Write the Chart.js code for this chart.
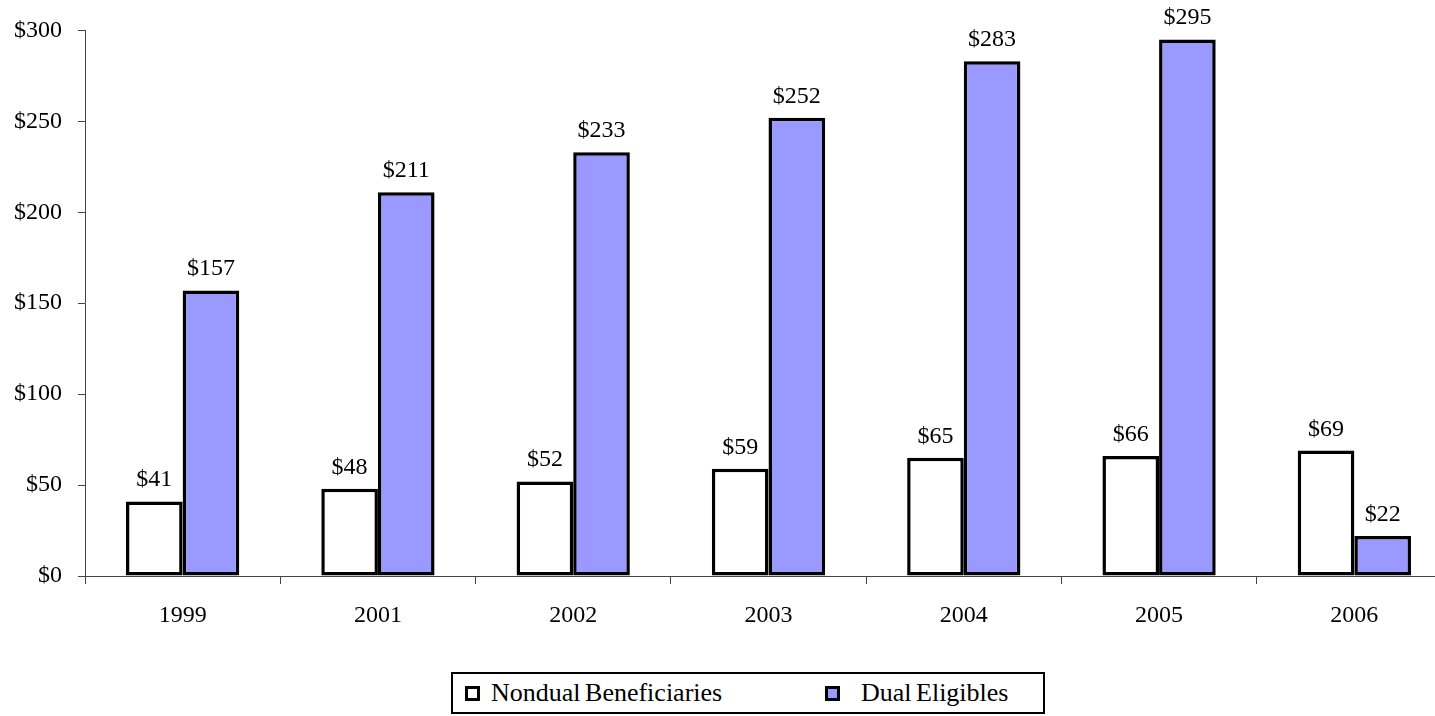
<!DOCTYPE html>
<html>
<head>
<meta charset="utf-8">
<script src="https://cdn.jsdelivr.net/npm/chart.js@4/dist/chart.umd.min.js"></script>
<style>
  html, body { margin: 0; padding: 0; background: #fff; overflow: hidden; }
  #wrap { position: relative; width: 1435px; height: 716px; overflow: hidden; }
  #box { position: absolute; left: 0; top: 0; width: 1452px; height: 716px; }
  #legend {
    position: absolute; left: 451px; top: 672px; width: 594px; height: 42px;
    box-sizing: border-box; border: 2px solid #000; background: #fff;
    font-family: "Liberation Serif", "Times New Roman", serif; font-size: 26px; color: #000;
  }
  .item { position: absolute; top: 3px; line-height: 32px; white-space: nowrap; word-spacing: -2px; }
  .sw { position: absolute; top: 12px; width: 9px; height: 9px; border: 3px solid #000; }
</style>
</head>
<body>
<div id="wrap">
  <div id="box"><canvas id="c"></canvas></div>
  <div id="legend">
    <span class="sw" style="left:12px;background:#fff"></span>
    <span class="item" style="left:38px">Nondual Beneficiaries</span>
    <span class="sw" style="left:372px;background:#9999ff"></span>
    <span class="item" style="left:408px">Dual Eligibles</span>
  </div>
</div>
<script>
(function () {
    // --- veriler ---
    const years = ['1999', '2001', '2002', '2003', '2004', '2005', '2006'];
    const nondual = [41, 48, 52, 59, 65, 66, 69];
    const dual = [157, 211, 233, 252, 283, 295, 22];
    const yTicks = [0, 50, 100, 150, 200, 250, 300];

    const fontFam = '"Liberation Serif", "Times New Roman", serif';

    // bar üstü etiketleri
    const valueLabels = {
        id: 'valueLabels',
        afterDatasetsDraw(chart) {
            const ctx = chart.ctx;
            ctx.save();
            ctx.font = '24px ' + fontFam;
            ctx.fillStyle = '#000';
            ctx.textAlign = 'center';
            ctx.textBaseline = 'alphabetic';
            chart.data.datasets.forEach((ds, i) => {
                chart.getDatasetMeta(i).data.forEach((bar, j) => {
                    ctx.fillText('$' + ds.data[j], bar.x, bar.y - 15);
                });
            });
            ctx.restore();
        }
    };

    new Chart(document.getElementById('c'), {
        type: 'bar',
        data: {
            labels: years,
            datasets: [
                {
                    label: 'Nondual Beneficiaries',
                    data: nondual,
                    backgroundColor: '#ffffff',
                    borderColor: '#000',
                    borderWidth: 3.5,
                    borderSkipped: false
                },
                {
                    label: 'Dual Eligibles',
                    data: dual,
                    backgroundColor: '#9999ff',
                    borderColor: '#000',
                    borderWidth: 3.5,
                    borderSkipped: false
                }
            ]
        },
        options: {
            responsive: true,
            maintainAspectRatio: false,
            animation: false,
            categoryPercentage: 0.58,
            barPercentage: 1.0,
            layout: { padding: { top: 30, right: 0, bottom: 0, left: 0 } },
            plugins: {
                legend: { display: false },
                tooltip: { enabled: false }
            },
            scales: {
                x: {
                    offset: true,
                    grid: {
                        offset: true,
                        drawOnChartArea: false,
                        drawTicks: true,
                        tickLength: 8,
                        color: '#444',
                        lineWidth: 1
                    },
                    border: { display: true, color: '#444', width: 1 },
                    ticks: {
                        color: '#000',
                        padding: 17,
                        font: { family: fontFam, size: 24 }
                    },
                    afterFit: s => { s.height = 140; }
                },
                y: {
                    min: 0,
                    max: 300,
                    afterBuildTicks: s => { s.ticks = yTicks.map(v => ({ value: v })); },
                    grid: {
                        drawOnChartArea: false,
                        drawTicks: true,
                        tickLength: 7,
                        color: '#444',
                        lineWidth: 1
                    },
                    border: { display: true, color: '#444', width: 1 },
                    ticks: {
                        color: '#000',
                        padding: 16,
                        font: { family: fontFam, size: 24 },
                        callback: v => '$' + v
                    },
                    afterFit: s => { s.width = 85; }
                }
            }
        },
        plugins: [valueLabels]
    });
})();
</script>
</body>
</html>
